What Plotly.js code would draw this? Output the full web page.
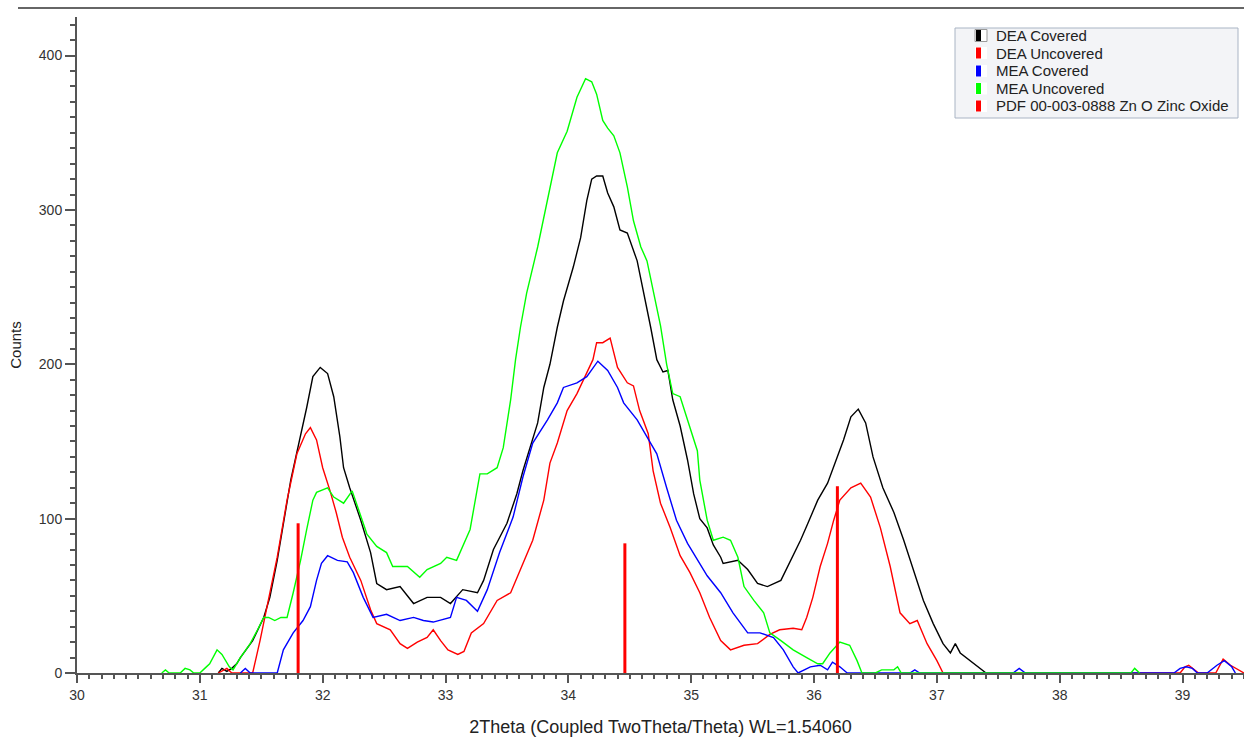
<!DOCTYPE html>
<html>
<head>
<meta charset="utf-8">
<script src="https://cdn.plot.ly/plotly-3.0.1.min.js"></script>
<style>html,body{margin:0;padding:0;background:#fff;}#chart{width:1244px;height:741px;}</style>
</head>
<body>
<div id="chart"></div>
<script>
// ---- data ----
const seriesNames = ["DEA Covered", "DEA Uncovered", "MEA Covered", "MEA Uncovered", "PDF 00-003-0888 Zn O Zinc Oxide"];
const seriesColors = ["#000000", "#ff0000", "#0000ff", "#00ff00", "#ff0000"];

const deaCovX = [31.15,31.18,31.22,31.26,31.30,31.33,31.43,31.52,31.57,31.63,31.74,31.82,31.87,31.92,31.98,32.04,32.09,32.14,32.17,32.22,32.31,32.39,32.44,32.52,32.63,32.74,32.85,32.96,33.04,33.14,33.26,33.31,33.39,33.50,33.58,33.63,33.69,33.75,33.80,33.85,33.91,33.96,34.04,34.10,34.15,34.19,34.23,34.28,34.32,34.37,34.42,34.48,34.56,34.61,34.67,34.72,34.77,34.81,34.85,34.91,34.97,35.02,35.07,35.13,35.18,35.24,35.26,35.38,35.46,35.54,35.62,35.73,35.81,35.89,35.95,36.03,36.11,36.19,36.24,36.30,36.36,36.42,36.48,36.56,36.65,36.73,36.81,36.89,36.97,37.05,37.11,37.15,37.19,37.27,37.35,37.40];
const deaCovY = [0,3,1,3,6,10,21,36,49,73,125,153,172,192,198,194,179,153,133,120,99,78,58,54,56,45,49,49,45,54,52,60,80,97,116,131,146,162,185,200,224,241,263,282,306,320,322,322,311,302,287,285,267,248,224,203,195,196,177,160,138,116,100,94,83,75,71,73,67,58,56,60,73,86,97,112,123,140,151,166,171,162,140,120,104,86,67,47,32,19,13,19,13,8,3,0];

const deaUncX = [31.15,31.22,31.26,31.43,31.49,31.55,31.63,31.71,31.79,31.86,31.90,31.95,32.00,32.06,32.11,32.16,32.22,32.31,32.39,32.44,32.55,32.63,32.69,32.77,32.85,32.90,32.96,33.02,33.10,33.15,33.21,33.31,33.42,33.53,33.61,33.71,33.80,33.85,33.91,33.99,34.07,34.15,34.20,34.23,34.28,34.34,34.40,34.48,34.53,34.58,34.65,34.69,34.75,34.83,34.91,34.99,35.07,35.15,35.24,35.32,35.43,35.54,35.64,35.72,35.83,35.90,35.94,35.99,36.05,36.11,36.16,36.21,36.30,36.38,36.46,36.54,36.62,36.70,36.78,36.84,36.92,37.00,37.05,38.98,39.02,39.05,39.10,39.13,39.27,39.33,39.39,39.45,39.50];
const deaUncY = [0,3,0,0,21,45,75,112,142,155,159,151,133,118,104,88,75,60,41,32,28,19,16,20,23,28,21,15,12,14,26,32,47,52,67,86,112,136,149,170,181,194,203,214,214,217,198,188,186,170,155,131,110,94,76,65,52,36,21,15,18,19,25,28,29,28,36,49,69,84,99,112,120,123,114,94,69,39,32,34,19,8,0,0,4,5,2,0,0,9,5,2,0];

const meaCovX = [31.33,31.37,31.41,31.63,31.68,31.76,31.84,31.90,31.95,31.99,32.04,32.12,32.20,32.25,32.33,32.41,32.52,32.63,32.74,32.82,32.90,33.04,33.09,33.17,33.26,33.34,33.44,33.55,33.63,33.71,33.83,33.91,33.96,34.07,34.15,34.24,34.32,34.40,34.45,34.56,34.64,34.72,34.80,34.88,34.97,35.04,35.13,35.24,35.34,35.46,35.56,35.67,35.75,35.83,35.87,35.97,36.05,36.11,36.15,36.21,36.27,36.78,36.82,36.86,37.62,37.67,37.72,38.93,38.98,39.03,39.08,39.12,39.20,39.28,39.34,39.40,39.43];
const meaCovY = [0,3,0,0,15,26,34,43,60,71,76,73,72,65,49,36,38,34,36,34,33,36,49,47,40,54,78,101,127,149,164,175,185,188,192,202,196,185,175,164,153,142,120,99,84,75,63,52,39,26,26,23,15,4,0,4,5,2,7,4,0,0,2,0,0,3,0,0,3,4,3,0,0,5,8,4,0];

const meaUncX = [30.69,30.72,30.75,30.84,30.88,30.92,30.95,31.00,31.04,31.08,31.14,31.18,31.24,31.27,31.33,31.41,31.47,31.52,31.56,31.61,31.66,31.71,31.76,31.82,31.87,31.92,31.95,32.04,32.09,32.17,32.24,32.30,32.36,32.44,32.52,32.57,32.69,32.79,32.85,32.96,33.01,33.09,33.14,33.20,33.28,33.34,33.42,33.47,33.53,33.57,33.61,33.66,33.75,33.83,33.91,33.99,34.07,34.14,34.19,34.23,34.28,34.32,34.37,34.42,34.48,34.53,34.59,34.64,34.69,34.75,34.80,34.85,34.91,34.97,35.05,35.07,35.13,35.18,35.26,35.32,35.38,35.43,35.51,35.59,35.64,35.73,35.83,35.94,36.03,36.07,36.13,36.21,36.29,36.35,36.39,36.50,36.55,36.65,36.68,36.71,38.58,38.61,38.65];
const meaUncY = [0,2,0,0,3,2,0,0,3,6,15,12,4,2,10,19,28,36,36,34,36,36,52,73,93,112,117,120,114,110,118,104,90,82,78,69,69,62,67,71,75,73,82,93,129,129,133,146,177,203,224,246,276,306,337,351,373,385,383,375,358,353,348,337,315,293,276,267,248,225,200,181,179,164,144,125,99,86,88,86,75,56,47,39,26,21,15,10,6,6,13,20,18,8,0,0,2,2,4,0,0,3,0];

const pdfPos = [31.80, 34.46, 36.19];
const pdfInt = [97, 84, 121];

const xTickVals = [30,31,32,33,34,35,36,37,38,39];
const yTickVals = [0,100,200,300,400];

// ---- build traces ----
const FONT = "Liberation Sans, Arial, sans-serif";
const curves = [[deaCovX, deaCovY], [deaUncX, deaUncY], [meaCovX, meaCovY], [meaUncX, meaUncY]];
const traces = [];
curves.forEach((c, i) => {
  traces.push({x: c[0], y: c[1], type: "scatter", mode: "lines", name: seriesNames[i],
    line: {color: seriesColors[i], width: 1.4}, showlegend: false});
});
const stickX = [], stickY = [];
pdfPos.forEach((p, i) => { stickX.push(p, p, null); stickY.push(0, pdfInt[i], null); });
traces.push({x: stickX, y: stickY, type: "scatter", mode: "lines", name: seriesNames[4],
  line: {color: seriesColors[4], width: 3}, showlegend: false});

// ---- legend box (drawn in paper space, layout only) ----
const L = 77, W = 1167, B = 673, H = 656;           // plot area in pixels
const px = v => (v - L) / W, py = v => (B - v) / H;
const shapes = [{type: "line", xref: "paper", yref: "paper", x0: px(18), x1: 1, y0: py(8), y1: py(8),
  line: {color: "#333", width: 1.5}}];
shapes.push({type: "rect", xref: "paper", yref: "paper", x0: px(955), x1: px(1238), y0: py(118), y1: py(28),
  fillcolor: "#f3f4f7", line: {color: "#a9b4c4", width: 1}, layer: "above"});
const annotations = [];
const rowY = [35.5, 53, 71, 88.5, 106];
seriesNames.forEach((n, i) => {
  const cy = rowY[i];
  shapes.push({type: "rect", xref: "paper", yref: "paper", x0: px(975), x1: px(987), y0: py(cy + 6), y1: py(cy - 6),
    fillcolor: "#ffffff", line: {color: i === 0 ? "#999" : "rgba(0,0,0,0)", width: 1}, layer: "above"});
  shapes.push({type: "rect", xref: "paper", yref: "paper", x0: px(976), x1: px(981), y0: py(cy + 5.5), y1: py(cy - 5.5),
    fillcolor: seriesColors[i], line: {width: 0}, layer: "above"});
  annotations.push({xref: "paper", yref: "paper", x: px(994), y: py(cy), xanchor: "left", yanchor: "middle",
    text: n, showarrow: false, font: {family: FONT, size: 15, color: "#222"}});
});

const layout = {
  width: 1244, height: 741,
  margin: {l: L, r: 0, t: 17, b: 68, pad: 0},
  paper_bgcolor: "#ffffff", plot_bgcolor: "#ffffff",
  font: {family: FONT, size: 14, color: "#333"},
  showlegend: false,
  xaxis: {range: [30, 39.5], tickvals: xTickVals, showgrid: false, zeroline: false,
    showline: true, linecolor: "#555", linewidth: 2,
    ticks: "outside", ticklen: 8, tickwidth: 1.5, tickcolor: "#555",
    minor: {dtick: 0.1, tick0: 30, ticks: "outside", ticklen: 4, tickwidth: 1.5, tickcolor: "#555", showgrid: false},
    tickfont: {family: FONT, size: 14, color: "#333"},
    title: {text: "2Theta (Coupled TwoTheta/Theta) WL=1.54060", font: {family: FONT, size: 18, color: "#222"}, standoff: 19}},
  yaxis: {range: [0, 425], tickvals: yTickVals, showgrid: false, zeroline: false,
    showline: true, linecolor: "#555", linewidth: 2,
    ticks: "outside", ticklen: 10, tickwidth: 1.5, tickcolor: "#555",
    minor: {dtick: 10, tick0: 0, ticks: "outside", ticklen: 5, tickwidth: 1.5, tickcolor: "#555", showgrid: false},
    tickfont: {family: FONT, size: 14, color: "#333"},
    title: {text: "Counts", font: {family: FONT, size: 15, color: "#222"}, standoff: 14}},
  shapes: shapes,
  annotations: annotations
};

Plotly.newPlot("chart", traces, layout, {displayModeBar: false, responsive: false});
</script>
</body>
</html>
